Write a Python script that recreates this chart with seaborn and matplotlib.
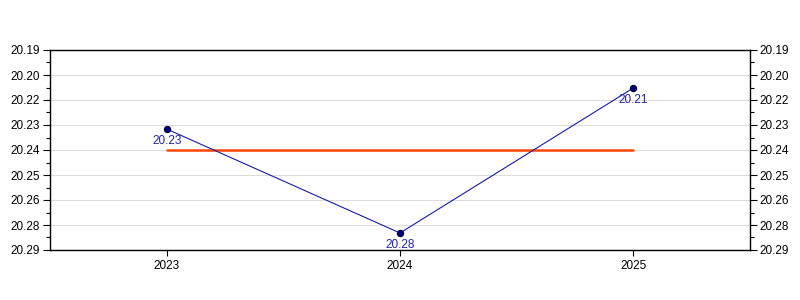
import matplotlib
matplotlib.use("Agg")
import matplotlib.pyplot as plt
from matplotlib.ticker import FixedLocator
import seaborn as sns
import pandas as pd
import numpy as np

years = ["2023", "2024", "2025"]
values = [20.2295, 20.2815, 20.2090]
value_labels = ["20.23", "20.28", "20.21"]
mean_value = 20.24
ytick_values = [20.19, 20.2025, 20.215, 20.2275, 20.24, 20.2525, 20.265, 20.2775, 20.29]
ytick_labels = ["20.19", "20.20", "20.22", "20.23", "20.24", "20.25", "20.26", "20.28", "20.29"]

sns.set_theme(style="white")
plt.rcParams["font.family"] = ["Liberation Sans", "DejaVu Sans"]

df = pd.DataFrame({"year": years, "value": values})
mean_df = pd.DataFrame({"year": years, "value": [mean_value] * len(years)})

fig = plt.figure(figsize=(8, 3), dpi=100)
ax = fig.add_axes([50 / 800, 50 / 300, 700 / 800, 200 / 300])

sns.lineplot(data=mean_df, x="year", y="value", ax=ax, color="#ff4500", linewidth=1.8, sort=False)
sns.lineplot(data=df, x="year", y="value", ax=ax, color="#1a1aaa", linewidth=0.8, sort=False,
             marker="o", markersize=4.5, markerfacecolor="#000080", markeredgecolor="#000033",
             markeredgewidth=0.8)

for i, (v, lab) in enumerate(zip(values, value_labels)):
    ax.annotate(lab, (i, v), xytext=(0, -4), textcoords="offset points",
                ha="center", va="top", fontsize=8.5, color="#2222aa")

ax.set_xlim(-0.5, 2.5)
ax.set_ylim(20.29, 20.19)
ax.set_xlabel("")
ax.set_ylabel("")

ax.yaxis.set_major_locator(FixedLocator(ytick_values))
ax.set_yticklabels(ytick_labels)
minor = [(a + b) / 2 for a, b in zip(ytick_values[:-1], ytick_values[1:])]
ax.yaxis.set_minor_locator(FixedLocator(minor))
ax.grid(axis="y", which="major", color="#dddddd", linewidth=0.8)
ax.set_axisbelow(True)

ax.tick_params(axis="y", which="major", left=True, right=True, labelleft=True, labelright=True,
               length=5, width=0.8, color="black", labelsize=8.5, labelcolor="black", pad=2,
               direction="out")
ax.tick_params(axis="y", which="minor", left=True, right=True, length=3, width=0.8, color="black")
ax.tick_params(axis="x", which="major", bottom=True, length=4, width=0.8, color="black",
               labelsize=8.5, labelcolor="black", pad=3)

for s in ["top", "bottom", "left", "right"]:
    ax.spines[s].set_visible(True)
    ax.spines[s].set_color("black")
    ax.spines[s].set_linewidth(1.0)

fig.savefig("out.png", dpi=100)
